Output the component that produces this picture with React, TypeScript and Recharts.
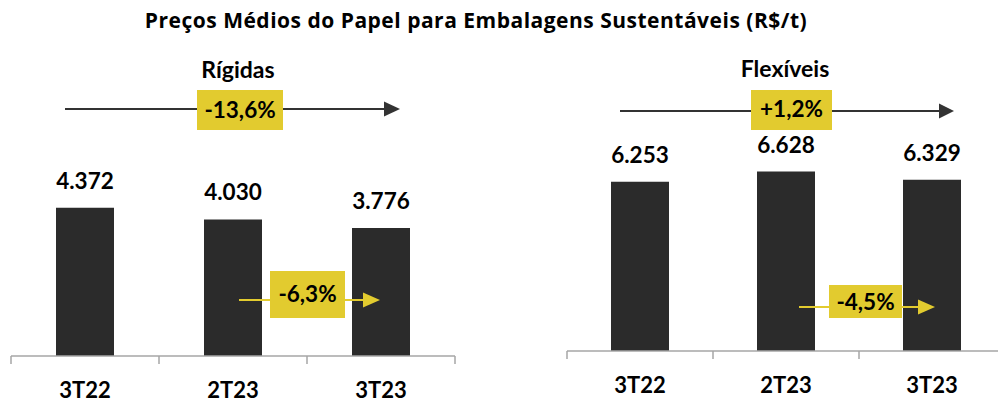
import { BarChart, Bar, XAxis, YAxis, LabelList } from "recharts";

const categories = ["3T22", "2T23", "3T23"];
const rigidasValues = [4372, 4030, 3776];
const flexiveisValues = [6253, 6628, 6329];

const rigidasData = categories.map((c, i) => ({ periodo: c, valor: rigidasValues[i] }));
const flexiveisData = categories.map((c, i) => ({ periodo: c, valor: flexiveisValues[i] }));

const FONT = "Lato, 'Open Sans', sans-serif";
const TITLE_FONT = "'Open Sans', Lato, sans-serif";
const YELLOW = "#E2CB2F";
const BAR = "#2B2B2B";
const AXIS = "#A6A6A6";
const TICK = 8;

// 4372 -> "4.372"
const fmtNum = (v: number) => String(v).replace(/\B(?=(\d{3})+(?!\d))/g, ".");

// variação percentual com vírgula decimal
const fmtPct = (from: number, to: number) => {
  const p = (to / from - 1) * 100;
  return (p > 0 ? "+" : "") + p.toFixed(1).replace(".", ",") + "%";
};

function BoundaryTick(props: any) {
  const { x, y, payload, index, visibleTicksCount, width } = props;
  const half = payload?.offset || width / visibleTicksCount / 2;
  const axisY = y - TICK;
  const last = index === visibleTicksCount - 1;
  return (
    <g>
      <line x1={x - half} x2={x - half} y1={axisY} y2={axisY + TICK} stroke={AXIS} strokeWidth={1.5} />
      {last && <line x1={x + half} x2={x + half} y1={axisY} y2={axisY + TICK} stroke={AXIS} strokeWidth={1.5} />}
      <text x={x} y={axisY + 42} textAnchor="middle" fontFamily={FONT} fontWeight={700} fontSize={22} fill="#000">
        {payload.value}
      </text>
    </g>
  );
}

function ValueLabel(props: any) {
  const { x, y, width, value } = props;
  return (
    <text x={x + width / 2} y={y - 19} textAnchor="middle" fontFamily={FONT} fontWeight={700} fontSize={22.5} fill="#000">
      {fmtNum(value)}
    </text>
  );
}

function PriceChart({ data, max, top, bottom, left, right, width }: any) {
  return (
    <BarChart width={width} height={405} data={data} margin={{ top, right, bottom: 0, left }}>
      <YAxis hide domain={[0, max]} />
      <XAxis
        dataKey="periodo"
        height={bottom}
        tickLine={false}
        tickSize={TICK}
        tickMargin={0}
        axisLine={{ stroke: AXIS, strokeWidth: 1.5 }}
        tick={<BoundaryTick />}
        interval={0}
      />
      <Bar dataKey="valor" fill={BAR} barSize={58} isAnimationActive={false}>
        <LabelList dataKey="valor" content={<ValueLabel />} />
      </Bar>
    </BarChart>
  );
}

function Arrow({ x1, x2, y, color, head }: any) {
  return (
    <g>
      <line x1={x1} x2={x2 - head + 2} y1={y} y2={y} stroke={color} strokeWidth={2} />
      <polygon points={`${x2 - head},${y - 7.5} ${x2},${y} ${x2 - head},${y + 7.5}`} fill={color} />
    </g>
  );
}

function Badge({ x, y, w, h, text, base }: any) {
  return (
    <g>
      <rect x={x} y={y} width={w} height={h} fill={YELLOW} />
      <text x={x + w / 2} y={base} textAnchor="middle" fontFamily={FONT} fontWeight={700} fontSize={22.5} fill="#000">
        {text}
      </text>
    </g>
  );
}

export default function App() {
  return (
    <div style={{ position: "absolute", left: 0, top: 0, width: 998, height: 405, overflow: "hidden", background: "#fff" }}>
      <div style={{ position: "absolute", left: 0, top: 0 }}>
        <PriceChart data={rigidasData} max={5000} top={186.5} bottom={49} left={11} right={15} width={470} />
      </div>
      <div style={{ position: "absolute", left: 520, top: 0 }}>
        <PriceChart data={flexiveisData} max={8000} top={134.4} bottom={54} left={47} right={15} width={500} />
      </div>
      <svg width={998} height={405} style={{ position: "absolute", left: 0, top: 0, pointerEvents: "none" }}>
        <text x={476} y={28} textAnchor="middle" fontFamily={TITLE_FONT} fontWeight={700} fontSize={21} letterSpacing={0.5} fill="#000">
          Preços Médios do Papel para Embalagens Sustentáveis (R$/t)
        </text>
        <text x={238} y={78} textAnchor="middle" fontFamily={FONT} fontWeight={700} fontSize={23} fill="#000">
          Rígidas
        </text>
        <text x={785} y={77} textAnchor="middle" fontFamily={FONT} fontWeight={700} fontSize={23} fill="#000">
          Flexíveis
        </text>

        <Arrow x1={65} x2={400} y={109} color="#333" head={16} />
        <Badge x={197} y={90} w={86} h={40} base={118} text={fmtPct(rigidasValues[0], rigidasValues[2])} />
        <Arrow x1={239} x2={380} y={300} color={YELLOW} head={17} />
        <Badge x={270} y={271} w={75} h={47} base={302} text={fmtPct(rigidasValues[1], rigidasValues[2])} />

        <Arrow x1={620} x2={954} y={111} color="#333" head={15} />
        <Badge x={751} y={90} w={81} h={40} base={117} text={fmtPct(flexiveisValues[0], flexiveisValues[2])} />
        <Arrow x1={799} x2={935} y={307} color={YELLOW} head={17} />
        <Badge x={829} y={285} w={73} h={33} base={310} text={fmtPct(flexiveisValues[1], flexiveisValues[2])} />
      </svg>
    </div>
  );
}
